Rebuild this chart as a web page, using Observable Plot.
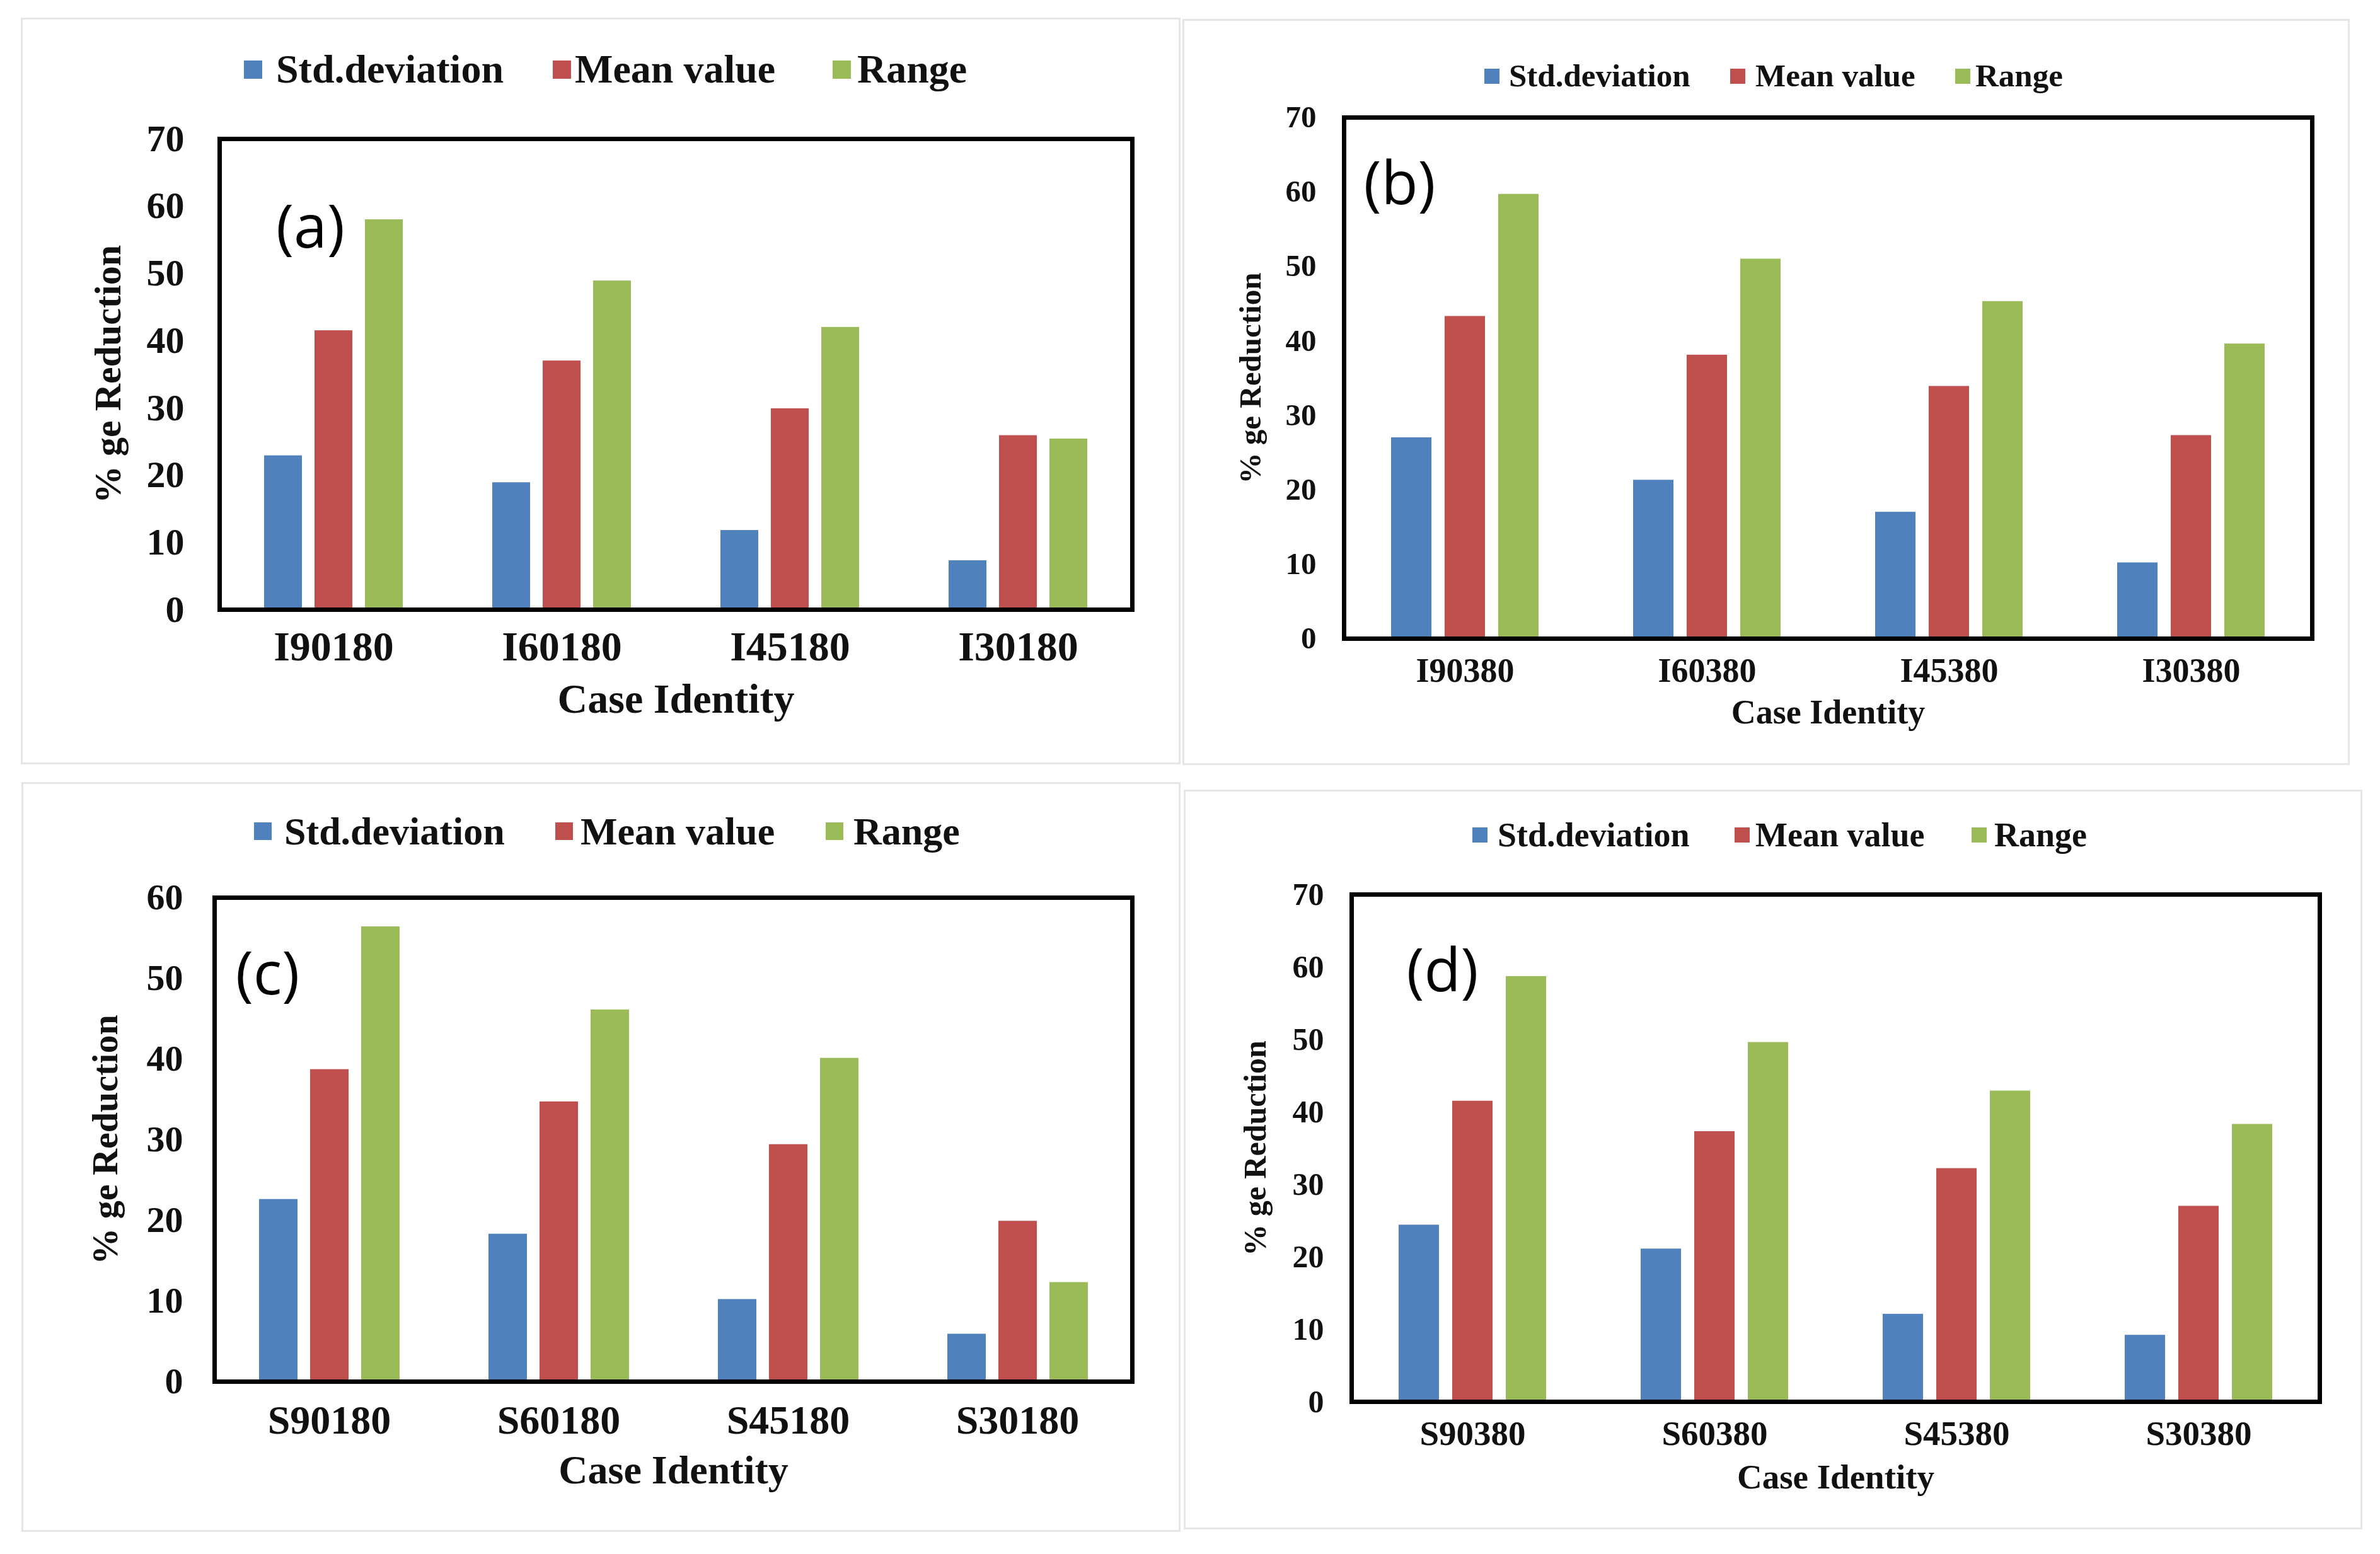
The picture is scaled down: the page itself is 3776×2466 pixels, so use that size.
<!DOCTYPE html>
<html>
<head>
<meta charset="utf-8">
<script src="https://cdn.jsdelivr.net/npm/d3@7"></script>
<script src="https://cdn.jsdelivr.net/npm/@observablehq/plot@0.6"></script>
<style>
  html, body { margin: 0; padding: 0; background: #fff; }
  body { width: 3776px; height: 2466px; position: relative; overflow: hidden; }
  .panel { position: absolute; border: 3px solid #e6e6e6; box-sizing: border-box; }
  .legend-item { position: absolute; display: flex; align-items: center; white-space: nowrap;
    font-family: "Liberation Serif", "Times New Roman", serif; font-weight: bold; color: #111; }
</style>
</head>
<body>
<script>
// ---- data ----
const seriesNames = ["Std.deviation", "Mean value", "Range"];
const seriesColors = ["#4F81BD", "#C0504D", "#9BBB59"];

const casesA = ["I90180", "I60180", "I45180", "I30180"];
const stdA   = [22.9, 18.9, 11.8, 7.3];
const meanA  = [41.5, 37.0, 29.9, 25.9];
const rangeA = [58.0, 48.9, 42.0, 25.4];

const casesB = ["I90380", "I60380", "I45380", "I30380"];
const stdB   = [27.0, 21.3, 17.0, 10.2];
const meanB  = [43.3, 38.1, 33.9, 27.3];
const rangeB = [59.7, 51.0, 45.3, 39.6];

const casesC = ["S90180", "S60180", "S45180", "S30180"];
const stdC   = [22.6, 18.3, 10.2, 5.9];
const meanC  = [38.7, 34.7, 29.4, 19.9];
const rangeC = [56.4, 46.1, 40.1, 12.3];

const casesD = ["S90380", "S60380", "S45380", "S30380"];
const stdD   = [24.4, 21.1, 12.1, 9.2];
const meanD  = [41.5, 37.3, 32.2, 27.0];
const rangeD = [58.7, 49.6, 42.9, 38.3];

const ticks70 = [0, 10, 20, 30, 40, 50, 60, 70];
const ticks60 = [0, 10, 20, 30, 40, 50, 60];

const yTitle = "% ge Reduction";
const xTitle = "Case Identity";

// ---- layout (not data) ----
const panels = [
  { tag: "(a)", cases: casesA, vals: [stdA, meanA, rangeA], ymax: 70, yticks: ticks70,
    box: [33, 28, 1873, 1213], svg: [33, 160, 1840, 1053], m: [60, 77, 246, 314],
    yfs: 60, ytp: 56, ylo: 200, xfs: 66, xtp: 34, xlo: 163, tdx: 144, tdy: 142,
    leg: { y: 110, fs: 64, sq: 29, sw: [387, 877, 1321], tx: [438, 912, 1360] } },
  { tag: "(b)", cases: casesB, vals: [stdB, meanB, rangeB], ymax: 70, yticks: ticks70,
    box: [1876, 30, 3728, 1214], svg: [1876, 150, 1852, 1064], m: [36, 60, 201, 256],
    yfs: 49, ytp: 44, ylo: 167, xfs: 54, xtp: 30, xlo: 134, tdx: 88, tdy: 107,
    leg: { y: 121, fs: 51, sq: 24, sw: [2355, 2745, 3102], tx: [2394, 2785, 3134] } },
  { tag: "(c)", cases: casesC, vals: [stdC, meanC, rangeC], ymax: 60, yticks: ticks60,
    box: [34, 1241, 1873, 2431], svg: [34, 1360, 1839, 1071], m: [64, 76, 239, 304],
    yfs: 58, ytp: 50, ylo: 196, xfs: 64, xtp: 37, xlo: 161, tdx: 84, tdy: 123,
    leg: { y: 1319, fs: 62, sq: 28, sw: [403, 881, 1310], tx: [451, 921, 1354] } },
  { tag: "(d)", cases: casesD, vals: [stdD, meanD, rangeD], ymax: 70, yticks: ticks70,
    box: [1878, 1253, 3748, 2427], svg: [1878, 1370, 1870, 1057], m: [49, 68, 203, 265],
    yfs: 50, ytp: 44, ylo: 172, xfs: 55, xtp: 29, xlo: 137, tdx: 144, tdy: 123,
    leg: { y: 1325, fs: 54, sq: 24, sw: [2336, 2752, 3128], tx: [2376, 2785, 3164] } }
];

for (const p of panels) {
  const box = document.createElement("div");
  box.className = "panel";
  Object.assign(box.style, {
    left: p.box[0] + "px", top: p.box[1] + "px",
    width: (p.box[2] - p.box[0]) + "px", height: (p.box[3] - p.box[1]) + "px"
  });
  document.body.appendChild(box);

  seriesNames.forEach((name, j) => {
    const sq = document.createElement("div");
    sq.className = "legend-item";
    Object.assign(sq.style, {
      left: p.leg.sw[j] + "px", top: (p.leg.y - p.leg.sq / 2) + "px",
      width: p.leg.sq + "px", height: p.leg.sq + "px", background: seriesColors[j]
    });
    document.body.appendChild(sq);
    const tx = document.createElement("div");
    tx.className = "legend-item";
    tx.textContent = name;
    Object.assign(tx.style, {
      left: p.leg.tx[j] + "px", top: (p.leg.y - p.leg.fs * 0.6) + "px",
      fontSize: p.leg.fs + "px", lineHeight: (p.leg.fs * 1.2) + "px"
    });
    document.body.appendChild(tx);
  });

  const data = [];
  p.cases.forEach((c, i) => {
    seriesNames.forEach((s, j) => data.push({ caseId: c, series: s, value: p.vals[j][i] }));
  });

  const chart = Plot.plot({
    width: p.svg[2], height: p.svg[3],
    marginTop: p.m[0], marginRight: p.m[1], marginBottom: p.m[2], marginLeft: p.m[3],
    style: { fontFamily: "'Liberation Serif', 'Times New Roman', serif", fontWeight: "bold",
             color: "#111", background: "transparent", overflow: "visible" },
    fx: { domain: p.cases, paddingInner: 0, paddingOuter: 0 },
    x: { domain: seriesNames, paddingInner: 0.25, paddingOuter: 0.86, axis: null },
    y: { domain: [0, p.ymax] },
    color: { domain: seriesNames, range: seriesColors },
    marks: [
      Plot.barY(data, { fx: "caseId", x: "series", y: "value", fill: "series" }),
      Plot.axisY({ anchor: "left", ticks: p.yticks, tickSize: 0, tickPadding: p.ytp,
                   fontSize: p.yfs, fontWeight: "bold", label: yTitle, labelAnchor: "center",
                   labelOffset: p.ylo, labelArrow: "none" }),
      Plot.axisFx({ anchor: "bottom", tickSize: 0, tickPadding: p.xtp, fontSize: p.xfs, fontWeight: "bold",
                    label: xTitle, labelAnchor: "center", labelOffset: p.xlo, labelArrow: "none" }),
      Plot.frame({ facet: "super", stroke: "#000", strokeWidth: 7 }),
      Plot.text([p.tag], { facet: "super", frameAnchor: "top-left", dx: p.tdx, dy: p.tdy,
                           fontFamily: "'Open Sans', sans-serif", fontWeight: "normal",
                           fontSize: 95, textAnchor: "middle", lineAnchor: "middle", fill: "#000" })
    ]
  });
  chart.style.position = "absolute";
  chart.style.left = p.svg[0] + "px";
  chart.style.top = p.svg[1] + "px";
  document.body.appendChild(chart);
}
</script>
</body>
</html>
